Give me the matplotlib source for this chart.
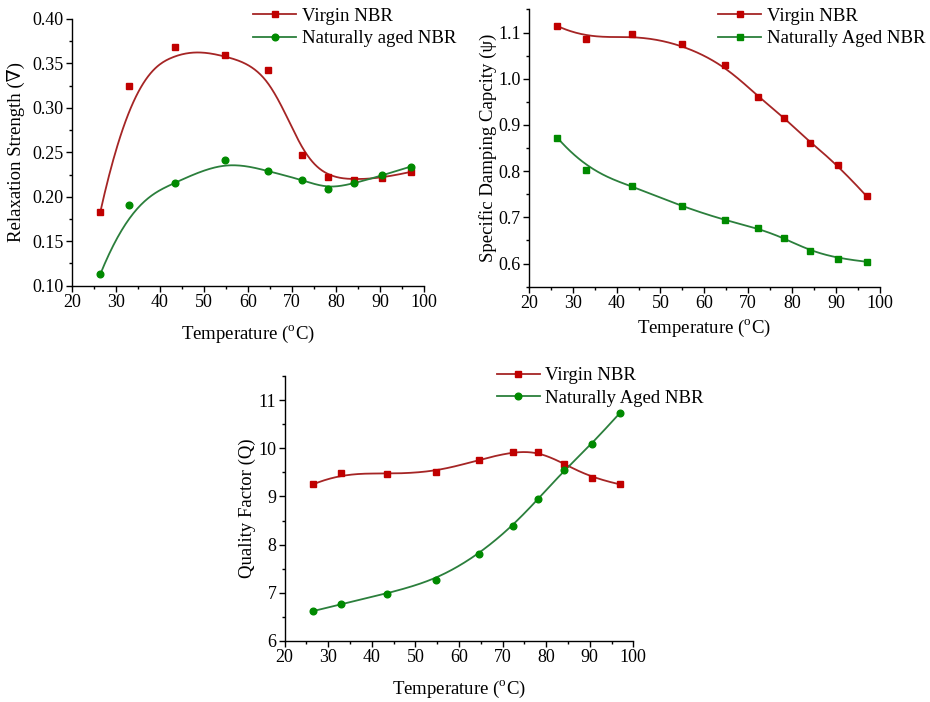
import numpy as np
import matplotlib
matplotlib.use('Agg')
import matplotlib.pyplot as plt
from matplotlib.ticker import MultipleLocator, FormatStrFormatter

plt.rcParams['font.family'] = ['Liberation Serif', 'DejaVu Serif']
plt.rcParams['mathtext.fontset'] = 'custom'
plt.rcParams['mathtext.rm'] = 'Liberation Serif'
plt.rcParams['font.size'] = 13

# temperatures (deg C) shared by all three measurements
temp = [26.5, 32.9, 43.4, 54.8, 64.6, 72.3, 78.2, 84.2, 90.5, 97.0]

# relaxation strength
rs_virgin = [0.183, 0.325, 0.369, 0.359, 0.343, 0.247, 0.222, 0.219, 0.221, 0.228]
rs_aged = [0.113, 0.191, 0.216, 0.241, 0.229, 0.219, 0.209, 0.215, 0.224, 0.234]

# specific damping capacity
sdc_virgin = [1.114, 1.086, 1.096, 1.075, 1.029, 0.961, 0.916, 0.861, 0.813, 0.746]
sdc_aged = [0.872, 0.803, 0.768, 0.724, 0.694, 0.676, 0.655, 0.627, 0.611, 0.604]

# quality factor
qf_virgin = [9.25, 9.49, 9.46, 9.51, 9.76, 9.93, 9.93, 9.68, 9.38, 9.25]
qf_aged = [6.62, 6.76, 6.98, 7.27, 7.80, 8.39, 8.95, 9.55, 10.09, 10.74]

RED_M, RED_L = '#C00000', '#A52525'
GRN_M, GRN_L = '#008A00', '#2B7F3C'


def bspline(x, y, k=3, n=400):
    # clamped cubic B-spline using the data points as control points
    P = np.column_stack([x, y])
    m = len(P)
    t = np.r_[np.zeros(k), np.linspace(0, 1, m - k + 1), np.ones(k)]
    u = np.linspace(0, 1, n)
    u[-1] -= 1e-9
    N = np.array([(t[i] <= u) & (u < t[i + 1]) for i in range(len(t) - 1)], float)
    for d in range(1, k + 1):
        Nn = np.zeros((len(t) - 1 - d, n))
        for i in range(len(t) - 1 - d):
            a = t[i + d] - t[i]
            b = t[i + d + 1] - t[i + 1]
            left = (u - t[i]) / a * N[i] if a > 0 else 0
            right = (t[i + d + 1] - u) / b * N[i + 1] if b > 0 else 0
            Nn[i] = left + right
        N = Nn
    C = N.T @ P
    return C[:, 0], C[:, 1]


def series(ax, y, marker, mcolor, lcolor, label, ms):
    cx, cy = bspline(temp, y)
    ax.plot(cx, cy, color=lcolor, lw=1.3, zorder=2)
    ax.plot(temp, y, ls='none', marker=marker, color=mcolor, ms=ms, zorder=3)
    # legend proxy: line with marker
    ax.plot([], [], color=lcolor, lw=1.3, marker=marker, mfc=mcolor, mec=mcolor, ms=ms, label=label)


def style(ax, ylim, ymaj, fmt, xlabel_pad, ylabel, ylabel_pad):
    ax.set_xlim(20, 100)
    ax.set_ylim(*ylim)
    ax.spines['top'].set_visible(False)
    ax.spines['right'].set_visible(False)
    for s in ('left', 'bottom'):
        ax.spines[s].set_linewidth(1.0)
    ax.xaxis.set_major_locator(MultipleLocator(10))
    ax.xaxis.set_minor_locator(MultipleLocator(5))
    ax.yaxis.set_major_locator(MultipleLocator(ymaj))
    ax.yaxis.set_minor_locator(MultipleLocator(ymaj / 2))
    ax.yaxis.set_major_formatter(FormatStrFormatter(fmt))
    ax.tick_params(which='major', direction='out', length=4, width=1.0, pad=2, labelsize=13)
    ax.tick_params(which='minor', direction='out', length=2.5, width=1.0)
    ax.set_xlabel('Temperature ($^{\\rm o}$C)', fontsize=13.5, labelpad=xlabel_pad)
    ax.set_ylabel(ylabel, fontsize=13.5, labelpad=ylabel_pad)


def legend(ax, fig, x, y):
    ax.legend(loc='upper left', bbox_to_anchor=(x, y), bbox_transform=fig.transFigure,
              frameon=False, fontsize=13.5, handlelength=2.3, handletextpad=0.3,
              labelspacing=0.28, borderpad=0, borderaxespad=0)


fig = plt.figure(figsize=(9.3, 7.02), dpi=100)

ax1 = fig.add_axes([0.0771, 0.593, 0.3788, 0.380])
series(ax1, rs_virgin, 's', RED_M, RED_L, 'Virgin NBR', 4.8)
series(ax1, rs_aged, 'o', GRN_M, GRN_L, 'Naturally aged NBR', 4.8)
style(ax1, (0.10, 0.40), 0.05, '%.2f', 9, 'Relaxation Strength (\u2207)', 5)
legend(ax1, fig, 0.272, 0.989)

ax2 = fig.add_axes([0.5688, 0.5916, 0.3771, 0.395])
series(ax2, sdc_virgin, 's', RED_M, RED_L, 'Virgin NBR', 4.8)
series(ax2, sdc_aged, 's', GRN_M, GRN_L, 'Naturally Aged NBR', 4.8)
style(ax2, (0.55, 1.15), 0.1, '%.1f', 4, 'Specific Damping Capcity (\u03c8)', 1)
legend(ax2, fig, 0.772, 0.989)

ax3 = fig.add_axes([0.3061, 0.0869, 0.3749, 0.3775])
series(ax3, qf_virgin, 's', RED_M, RED_L, 'Virgin NBR', 4.8)
series(ax3, qf_aged, 'o', GRN_M, GRN_L, 'Naturally Aged NBR', 4.8)
style(ax3, (6, 11.5), 1, '%d', 9, 'Quality Factor (Q)', 2)
legend(ax3, fig, 0.534, 0.477)

fig.savefig('out.png', dpi=100)
